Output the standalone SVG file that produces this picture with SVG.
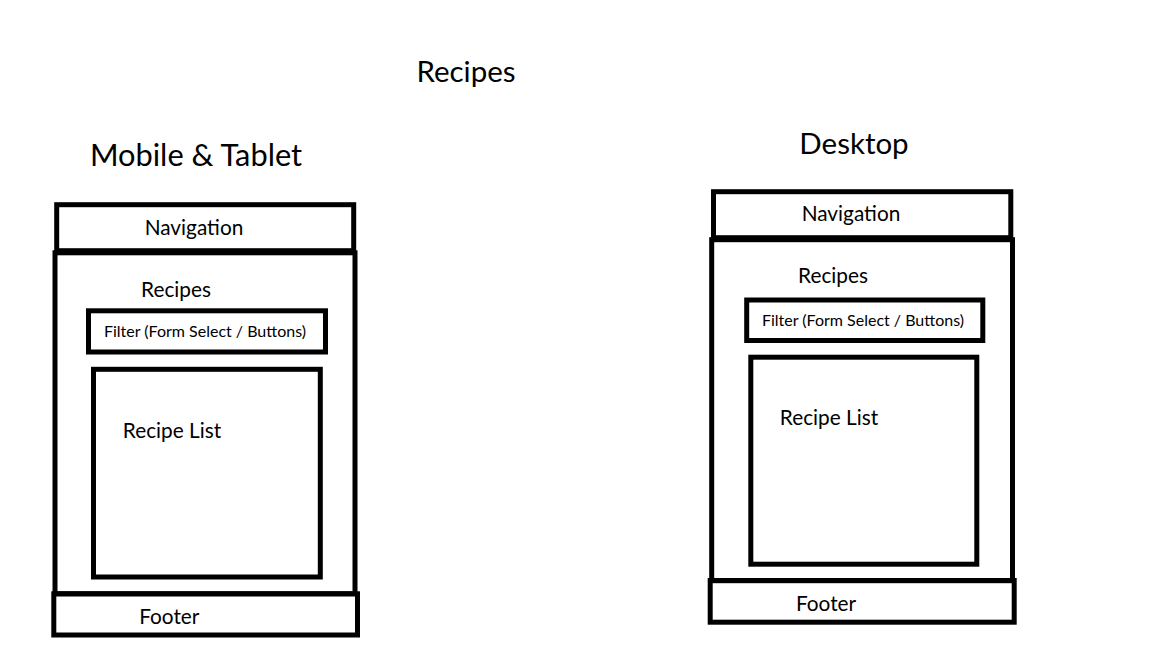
<svg xmlns="http://www.w3.org/2000/svg" width="1152" height="648" viewBox="0 0 1152 648">
<style>
.box{fill:none;stroke:#000;stroke-width:5}
text{font-family:Lato,"Open Sans",sans-serif;fill:#000;text-anchor:middle}
.h{font-size:29.5px}
.t{font-size:30.8px}
.m{font-size:20.8px}
.s{font-size:16px}
</style>
<rect width="1152" height="648" fill="#fff"/>
<g id="titles">
<text class="h" x="466" y="81.5">Recipes</text>
<text class="t" x="196" y="166">Mobile &amp; Tablet</text>
<text class="h" x="854" y="154">Desktop</text>
</g>
<g id="mobile">
<g id="m-nav"><rect class="box" x="56.7" y="204.7" width="297" height="46"/><text class="m" x="194" y="234.5">Navigation</text></g>
<g id="m-main"><rect class="box" x="55" y="252.8" width="300" height="341"/><text class="m" x="176" y="297">Recipes</text></g>
<g id="m-filter"><rect class="box" x="88.5" y="310.8" width="237" height="41.2"/><text class="s" x="205" y="337">Filter (Form Select / Buttons)</text></g>
<g id="m-list"><rect class="box" x="93.5" y="369.3" width="226.8" height="207.7"/><text class="m" x="172" y="438">Recipe List</text></g>
<g id="m-footer"><rect class="box" x="53.8" y="593.8" width="303.7" height="41.2"/><text class="m" x="169.3" y="624">Footer</text></g>
</g>
<g id="desktop">
<g id="d-nav"><rect class="box" x="713.5" y="191.7" width="297.3" height="46"/><text class="m" x="851" y="221.2">Navigation</text></g>
<g id="d-main"><rect class="box" x="711.7" y="239.7" width="300.8" height="341"/><text class="m" x="833" y="282.5">Recipes</text></g>
<g id="d-filter"><rect class="box" x="746.7" y="300" width="236.1" height="40.5"/><text class="s" x="863" y="325.5">Filter (Form Select / Buttons)</text></g>
<g id="d-list"><rect class="box" x="750.8" y="357.2" width="226" height="207"/><text class="m" x="829" y="424.7">Recipe List</text></g>
<g id="d-footer"><rect class="box" x="710.2" y="580.5" width="304" height="41.7"/><text class="m" x="826" y="611.3">Footer</text></g>
</g>
<g id="connectors"/>
</svg>
